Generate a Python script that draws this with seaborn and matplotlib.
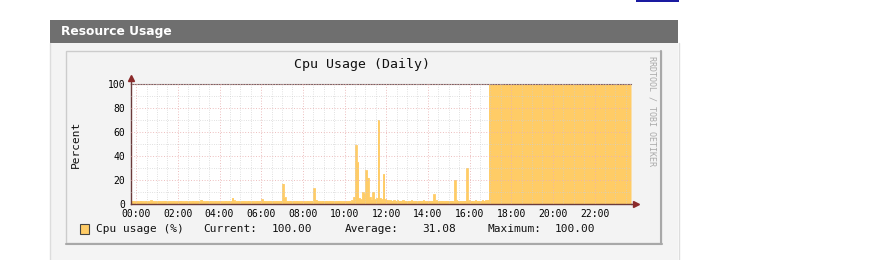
import matplotlib
matplotlib.use("Agg")
import matplotlib.pyplot as plt
import seaborn as sns
import numpy as np
import pandas as pd
from matplotlib.patches import Rectangle
from matplotlib.lines import Line2D
from matplotlib.ticker import MultipleLocator

# ---------------- data (CPU usage %, 5-minute steps starting 23:45) ----------------
START_H = -0.25      # 23:45 of previous day
STEP_H = 5 / 60.0
END_H = 23.75

v_2345 = [2.6, 2.8, 2.5]
v_h00 = [2.7, 2.5, 2.9, 2.6, 2.4, 2.8, 2.6, 2.5, 3.0, 2.7, 2.5, 2.6]
v_h01 = [2.8, 2.6, 2.5, 2.7, 2.9, 2.6, 2.4, 2.7, 2.6, 2.8, 2.5, 2.6]
v_h02 = [2.7, 2.9, 2.6, 2.5, 2.8, 2.6, 2.7, 2.5, 2.9, 2.6, 2.8, 2.7]
v_h03 = [2.6, 3.4, 2.7, 2.5, 2.8, 2.6, 2.9, 2.7, 2.5, 2.8, 2.6, 2.7]
v_h04 = [2.8, 2.6, 2.7, 2.9, 2.6, 2.8, 2.7, 5.2, 3.0, 2.6, 2.8, 2.7]
v_h05 = [2.6, 2.8, 2.7, 2.5, 2.9, 2.6, 2.8, 2.7, 2.6, 2.9, 2.7, 2.8]
v_h06 = [3.8, 2.9, 2.7, 2.6, 2.8, 2.7, 2.9, 2.6, 2.8, 2.7, 2.6, 2.9]
v_h07 = [17.0, 5.5, 2.8, 2.7, 2.9, 2.6, 2.8, 2.7, 2.9, 2.6, 2.8, 2.7]
v_h08 = [2.8, 2.6, 2.9, 2.7, 2.8, 2.6, 13.0, 3.5, 2.8, 2.7, 2.6, 2.9]
v_h09 = [2.7, 2.8, 2.6, 2.9, 2.7, 2.8, 2.6, 2.7, 2.9, 2.8, 2.6, 2.7]
v_h10 = [2.8, 2.7, 2.9, 2.6, 3.2, 6.0, 49.0, 35.0, 5.0, 4.0, 10.0, 9.0]
v_h11 = [28.0, 22.0, 6.0, 4.0, 10.0, 4.0, 5.0, 70.0, 5.0, 4.0, 25.0, 4.0]
v_h12 = [3.5, 3.2, 3.0, 2.9, 3.1, 2.8, 3.0, 2.9, 2.8, 3.0, 2.9, 2.8]
v_h13 = [2.9, 2.8, 3.0, 2.7, 2.9, 2.8, 2.7, 2.9, 2.8, 3.0, 2.7, 2.8]
v_h14 = [2.9, 2.7, 2.8, 8.0, 3.0, 2.8, 2.7, 2.9, 2.8, 2.7, 2.9, 2.8]
v_h15 = [2.8, 2.9, 2.7, 20.0, 3.2, 2.8, 2.9, 2.7, 2.8, 2.9, 30.0, 3.0]
v_h16 = [2.8, 2.9, 2.7, 3.0, 2.8, 2.9, 2.7, 3.1, 2.9, 3.2, 3.5, 100.0]
v_h17 = [100.0, 100.0, 100.0, 100.0, 100.0, 100.0, 100.0, 100.0, 100.0, 100.0, 100.0, 100.0]
v_h18 = [100.0, 100.0, 100.0, 100.0, 100.0, 100.0, 100.0, 100.0, 100.0, 100.0, 100.0, 100.0]
v_h19 = [100.0, 100.0, 100.0, 100.0, 100.0, 100.0, 100.0, 100.0, 100.0, 100.0, 100.0, 100.0]
v_h20 = [100.0, 100.0, 100.0, 100.0, 100.0, 100.0, 100.0, 100.0, 100.0, 100.0, 100.0, 100.0]
v_h21 = [100.0, 100.0, 100.0, 100.0, 100.0, 100.0, 100.0, 100.0, 100.0, 100.0, 100.0, 100.0]
v_h22 = [100.0, 100.0, 100.0, 100.0, 100.0, 100.0, 100.0, 100.0, 100.0, 100.0, 100.0, 100.0]
v_h23 = [100.0, 100.0, 100.0, 100.0, 100.0, 100.0, 100.0, 100.0, 100.0]

cpu_values = (v_2345 + v_h00 + v_h01 + v_h02 + v_h03 + v_h04 + v_h05 + v_h06 + v_h07
              + v_h08 + v_h09 + v_h10 + v_h11 + v_h12 + v_h13 + v_h14 + v_h15 + v_h16
              + v_h17 + v_h18 + v_h19 + v_h20 + v_h21 + v_h22 + v_h23)

x_tick_hours = [0, 2, 4, 6, 8, 10, 12, 14, 16, 18, 20, 22]
y_ticks = [0, 20, 40, 60, 80, 100]

title = "Cpu Usage (Daily)"
y_label = "Percent"
legend_label = "Cpu usage (%)"
stat_current = "100.00"
stat_average = "31.08"
stat_maximum = "100.00"
panel_title = "Resource Usage"
watermark = "RRDTOOL / TOBI OETIKER"

AREA = "#FFCC66"
AXIS_C = "#6b3b3b"
ARROW_C = "#8b2a2a"

# ---------------- figure ----------------
sns.set_theme(style="white")
plt.rcParams["font.family"] = ["DejaVu Sans Mono", "DejaVu Sans"]

W, H = 869, 260
fig = plt.figure(figsize=(W / 100, H / 100), dpi=100)
fig.patch.set_facecolor("white")


def rect(x0, y0, x1, y1, fc, ec="none", lw=0.0, z=0.1):
    fig.add_artist(Rectangle((x0 / W, 1 - y1 / H), (x1 - x0) / W, (y1 - y0) / H,
                             transform=fig.transFigure, facecolor=fc,
                             edgecolor=ec, lw=lw, zorder=z))


def fline(x0, y0, x1, y1, c, lw=1.0, z=0.3):
    fig.add_artist(Line2D([x0 / W, x1 / W], [1 - y0 / H, 1 - y1 / H],
                          transform=fig.transFigure, color=c, lw=lw, zorder=z))


def ftext(x, y, s, **kw):
    fig.text(x / W, 1 - y / H, s, zorder=10, **kw)


# link underline at top right
rect(636, 0, 679, 2, "#1a1aa0")
# panel header and body
rect(50, 20, 678, 43, "#6f6f6f")
rect(50, 43, 678, 260, "#f4f4f4")
fline(50, 43, 50, 260, "#dddddd")
fline(678.5, 43, 678.5, 260, "#dddddd")
ftext(61, 31.5, panel_title, family="DejaVu Sans", weight="bold", size=8.8,
      color="white", va="center", ha="left")

# rrd graph canvas
rect(66, 51, 661, 243, "#f3f3f3", ec="#cccccc", lw=1.0, z=0.2)
fline(661, 51, 661, 244, "#a8a8a8", lw=1.5)
fline(66, 243.5, 662, 243.5, "#a8a8a8", lw=1.5)

# plot axes
ax = fig.add_axes([131 / W, 1 - 204 / H, 500 / W, 120 / H])
ax.set_zorder(5)
ax.set_facecolor("white")

hours = START_H + np.arange(len(cpu_values)) * STEP_H
x_edges = np.append(hours, END_H)
y_edges = np.append(np.array(cpu_values), cpu_values[-1])
df = pd.DataFrame({"hour": x_edges, "cpu": y_edges})

ax.fill_between(df["hour"], 0, df["cpu"], step="post", color=AREA, lw=0, zorder=1)
sns.lineplot(data=df, x="hour", y="cpu", ax=ax, drawstyle="steps-post",
             estimator=None, color=AREA, lw=0.6, zorder=1.2)

ax.set_xlim(START_H, END_H)
ax.set_ylim(0, 100)
ax.set_xticks(x_tick_hours)
ax.set_xticklabels([f"{h:02d}:00" for h in x_tick_hours])
ax.xaxis.set_minor_locator(MultipleLocator(0.5))
ax.set_yticks(y_ticks)
ax.set_yticklabels([str(t) for t in y_ticks])
ax.yaxis.set_minor_locator(MultipleLocator(10))
ax.set_xlabel("")
ax.set_ylabel("")

ax.set_axisbelow(False)
ax.grid(which="minor", color="#cfcfcf", ls=(0, (1, 2)), lw=0.55)
ax.grid(which="major", color="#eab4b4", ls=(0, (1, 2)), lw=0.65)

ax.tick_params(which="major", axis="both", length=2.5, width=0.8, color=AXIS_C,
               labelsize=7, labelcolor="#000000", direction="inout", pad=2.5)
ax.tick_params(which="minor", length=0)
ax.tick_params(axis="y", pad=3)

for s in ["left", "bottom"]:
    ax.spines[s].set_color(AXIS_C)
    ax.spines[s].set_linewidth(1.0)
ax.spines["top"].set_color("#7a6464")
ax.spines["top"].set_linewidth(0.8)
ax.spines["right"].set_visible(False)

# axis arrows
ax.plot([1.0, 1.008], [0, 0], transform=ax.transAxes, clip_on=False,
        color=AXIS_C, lw=1.0, zorder=6)
ax.plot([1.01], [0], transform=ax.transAxes, clip_on=False, marker=">",
        ms=4, color=ARROW_C, zorder=6)
ax.plot([0, 0], [1.0, 1.03], transform=ax.transAxes, clip_on=False,
        color=AXIS_C, lw=1.0, zorder=6)
ax.plot([0], [1.05], transform=ax.transAxes, clip_on=False, marker="^",
        ms=4, color=ARROW_C, zorder=6)

# texts
ftext(362, 64.5, title, size=9.5, color="#111111", ha="center", va="center")
ftext(76, 144, y_label, size=8, color="#111111", ha="center", va="center", rotation=90)
ftext(652, 111, watermark, size=6, color="#aaaaaa", ha="center", va="center", rotation=270)

# legend row
rect(80, 224, 89, 234, AREA, ec="#444444", lw=0.8, z=9)
ly = 229.5
ftext(96, ly, legend_label, size=8, va="center", ha="left", color="#111111")
ftext(203, ly, "Current:", size=8, va="center", ha="left", color="#111111")
ftext(272, ly, stat_current, size=8, va="center", ha="left", color="#111111")
ftext(345, ly, "Average:", size=8, va="center", ha="left", color="#111111")
ftext(422, ly, stat_average, size=8, va="center", ha="left", color="#111111")
ftext(487, ly, "Maximum:", size=8, va="center", ha="left", color="#111111")
ftext(555, ly, stat_maximum, size=8, va="center", ha="left", color="#111111")

fig.savefig("out.png", dpi=100, facecolor=fig.get_facecolor())
